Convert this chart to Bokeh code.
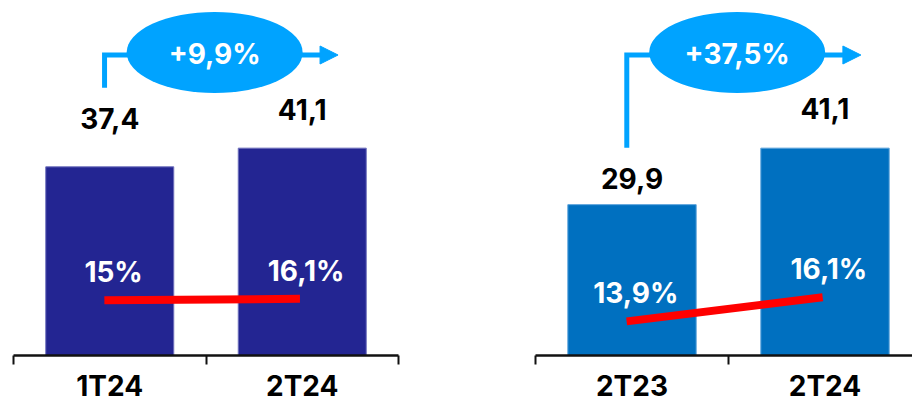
from bokeh.plotting import figure
from bokeh.models import Range1d, FixedTicker, ColumnDataSource, Arrow, NormalHead
from bokeh.layouts import row
from bokeh.embed import file_html
from bokeh.resources import INLINE
from bokeh.core.properties import value

# ---------------- data ----------------
left_categories = ["1T24", "2T24"]
left_values = [37.4, 41.1]
left_value_labels = ["37,4", "41,1"]
left_margins = [15.0, 16.1]
left_margin_labels = ["15%", "16,1%"]
left_growth = "+9,9%"

right_categories = ["2T23", "2T24"]
right_values = [29.9, 41.1]
right_value_labels = ["29,9", "41,1"]
right_margins = [13.9, 16.1]
right_margin_labels = ["13,9%", "16,1%"]
right_growth = "+37,5%"

# ---------------- style ----------------
FONT = value("Inter")
FIG_W, FIG_H = 456, 406
FRAME_H = 355
PX = 5.045                 # pixels per value unit
Y_END = FRAME_H / PX
ELLIPSE_COLOR = "#00A3FF"
TEXT_SHIFT = 10            # baseline compensation (px)


def panel(cats, vals, vlabels, margins, mlabels, growth, bar_color, edge_color,
          pct_range, label_gaps, border_left, border_right, x_end):
    n = len(cats)
    xs = [i + 0.5 for i in range(n)]
    p = figure(width=FIG_W, height=FIG_H, x_range=Range1d(0, x_end),
               y_range=Range1d(0, Y_END), output_backend="svg",
               toolbar_location=None, y_axis_location=None,
               min_border_left=border_left, min_border_right=border_right,
               min_border_top=0, min_border_bottom=FIG_H - FRAME_H)
    p.extra_y_ranges = {"pct": Range1d(*pct_range)}
    p.grid.visible = False
    p.outline_line_color = None
    p.background_fill_color = "white"
    p.border_fill_color = "white"

    # bars
    p.vbar(x=xs, top=vals, width=0.665, bottom=0, fill_color=bar_color,
           line_color=edge_color, line_width=1)

    # value labels above bars
    src = ColumnDataSource(dict(x=xs, y=vals, t=vlabels,
                                dy=[-(g + TEXT_SHIFT) for g in label_gaps]))
    p.text(x="x", y="y", text="t", y_offset="dy", source=src,
           text_align="center", text_baseline="alphabetic",
           text_font=FONT, text_font_size="28px", text_font_style="bold",
           text_color="#000000")

    # growth connector
    x0 = xs[0] - 0.027
    y_arrow = (FRAME_H - 54.5) / PX
    y_ell = (FRAME_H - 52) / PX
    y_bottom = vals[0] + (label_gaps[0] + 41) / PX
    x_tip = xs[-1] + 0.186
    p.line(x=[x0, x0, x_tip - 0.05], y=[y_bottom, y_arrow, y_arrow],
           line_color=ELLIPSE_COLOR, line_width=5, line_join="miter")
    p.add_layout(Arrow(end=NormalHead(size=18, fill_color=ELLIPSE_COLOR,
                                      line_color=ELLIPSE_COLOR, line_width=1),
                       x_start=x_tip - 0.08, y_start=y_arrow, x_end=x_tip, y_end=y_arrow,
                       line_color=ELLIPSE_COLOR, line_width=5))
    xm = (xs[0] + xs[-1]) / 2 + 0.045
    p.ellipse(x=[xm], y=[y_ell], width=176, height=81, width_units="screen",
              height_units="screen", fill_color=ELLIPSE_COLOR, line_color=None)
    p.text(x=[xm], y=[y_ell], text=[growth], text_align="center",
           text_baseline="middle", text_font=FONT, text_font_size="28px",
           text_font_style="bold", text_color="white", y_offset=1)

    # margin line
    p.line(x=[xs[0] - 0.028, xs[-1] - 0.012], y=margins, y_range_name="pct",
           line_color="#FF0000", line_width=8, line_cap="butt")
    p.text(x=[x + 0.02 for x in xs], y=margins, text=mlabels, y_range_name="pct",
           y_offset=-(18 + TEXT_SHIFT), text_align="center", text_baseline="alphabetic",
           text_font=FONT, text_font_size="28px", text_font_style="bold",
           text_color="white")

    # category axis
    ax = p.xaxis[0]
    ax.ticker = FixedTicker(ticks=xs, minor_ticks=list(range(n + 1)))
    ax.major_label_overrides = {x: c for x, c in zip(xs, cats)}
    ax.major_tick_line_color = None
    ax.major_tick_out = 0
    ax.major_tick_in = 0
    ax.minor_tick_in = 0
    ax.minor_tick_out = 9
    ax.minor_tick_line_width = 2
    ax.minor_tick_line_color = "#111111"
    ax.axis_line_width = 2.5
    ax.axis_line_color = "#111111"
    ax.major_label_standoff = 4
    ax.major_label_text_font = "Inter"
    ax.major_label_text_font_size = "28px"
    ax.major_label_text_font_style = "bold"
    ax.major_label_text_color = "#000000"
    return p


left = panel(left_categories, left_values, left_value_labels, left_margins,
             left_margin_labels, left_growth, "#232592", "#6f71bd",
             (-25.3, 234.2), [38, 29], 13, 58, 2.0)
right = panel(right_categories, right_values, right_value_labels, right_margins,
              right_margin_labels, right_growth, "#0070C0", "#5aa2db",
              (10.78, 43.23), [16, 30], 79, 0, 377 / 193)

layout = row(left, right)
open("out.html", "w").write(file_html(layout, INLINE))
